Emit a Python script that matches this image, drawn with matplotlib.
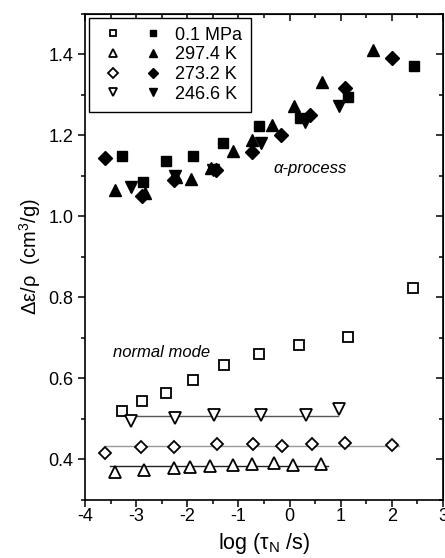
import numpy as np
import matplotlib.pyplot as plt
from matplotlib.legend_handler import HandlerTuple
from matplotlib.ticker import MultipleLocator

plt.rcParams['font.family'] = ['Liberation Sans', 'DejaVu Sans']
plt.rcParams['mathtext.fontset'] = 'custom'
plt.rcParams['mathtext.it'] = 'Liberation Sans:italic'
plt.rcParams['mathtext.rm'] = 'Liberation Sans'

labels = ["0.1 MPa", "297.4 K", "273.2 K", "246.6 K"]

# normal mode (open symbols)
x_nm_p = [-3.27, -2.88, -2.41, -1.89, -1.28, -0.60, 0.18, 1.15, 2.42]
y_nm_p = [0.519, 0.545, 0.565, 0.596, 0.633, 0.661, 0.683, 0.702, 0.824]
x_nm_297 = [-3.41, -2.84, -2.25, -1.95, -1.56, -1.11, -0.73, -0.31, 0.06, 0.61]
y_nm_297 = [0.370, 0.375, 0.378, 0.381, 0.385, 0.387, 0.390, 0.391, 0.387, 0.389]
x_nm_273 = [-3.60, -2.91, -2.26, -1.42, -0.71, -0.14, 0.43, 1.08, 2.01]
y_nm_273 = [0.415, 0.430, 0.430, 0.437, 0.437, 0.433, 0.438, 0.441, 0.436]
x_nm_246 = [-3.10, -2.24, -1.48, -0.55, 0.32, 0.97]
y_nm_246 = [0.494, 0.502, 0.509, 0.510, 0.509, 0.525]

# alpha process (filled symbols)
x_a_p = [-3.27, -2.87, -2.42, -1.89, -1.30, -0.59, 0.20, 1.15, 2.43]
y_a_p = [1.150, 1.086, 1.138, 1.150, 1.181, 1.223, 1.242, 1.296, 1.371]
x_a_297 = [-3.41, -2.83, -2.23, -1.93, -1.54, -1.10, -0.73, -0.35, 0.09, 0.63, 1.63]
y_a_297 = [1.066, 1.057, 1.097, 1.093, 1.119, 1.161, 1.188, 1.225, 1.272, 1.331, 1.410]
x_a_273 = [-3.61, -2.89, -2.26, -1.44, -0.73, -0.16, 0.40, 1.08, 2.01]
y_a_273 = [1.145, 1.051, 1.091, 1.115, 1.159, 1.202, 1.250, 1.317, 1.391]
x_a_246 = [-3.11, -2.24, -1.49, -0.55, 0.30, 0.97]
y_a_246 = [1.072, 1.100, 1.114, 1.182, 1.234, 1.272]

# constant fits to the normal-mode data at fixed T
fit_297_range = [-3.51, 0.76]
fit_273_range = [-3.60, 2.13]
fit_246_range = [-3.10, 0.95]

fig = plt.figure(figsize=(4.45, 5.58), dpi=100)
ax = fig.add_axes([0.191, 0.104, 0.8045, 0.871])

for rng, ys, c in [(fit_297_range, y_nm_297, '#222222'),
                   (fit_273_range, y_nm_273, '#999999'),
                   (fit_246_range, y_nm_246, '#555555')]:
    ax.plot(rng, [np.mean(ys)] * 2, color=c, lw=1.0, zorder=1)

open_kw = dict(ls='none', mfc='white', mec='black', mew=1.3, zorder=3)
fill_kw = dict(ls='none', color='black', zorder=3)

h1o, = ax.plot(x_nm_p, y_nm_p, marker='s', ms=6.5, **open_kw)
h2o, = ax.plot(x_nm_297, y_nm_297, marker='^', ms=8, **open_kw)
h3o, = ax.plot(x_nm_273, y_nm_273, marker='D', ms=6.5, **open_kw)
h4o, = ax.plot(x_nm_246, y_nm_246, marker='v', ms=8, **open_kw)

h1f, = ax.plot(x_a_p, y_a_p, marker='s', ms=6.5, **fill_kw)
h2f, = ax.plot(x_a_297, y_a_297, marker='^', ms=8.5, **fill_kw)
h3f, = ax.plot(x_a_273, y_a_273, marker='D', ms=7, **fill_kw)
h4f, = ax.plot(x_a_246, y_a_246, marker='v', ms=8.5, **fill_kw)

ax.set_xlim(-4, 3)
ax.set_ylim(0.3, 1.5)
ax.xaxis.set_minor_locator(MultipleLocator(0.5))
ax.yaxis.set_minor_locator(MultipleLocator(0.1))
ax.set_xticks(np.arange(-4, 4, 1))
ax.set_xticklabels([str(v) for v in range(-4, 4)])
ax.set_yticks(np.arange(0.4, 1.41, 0.2))
ax.set_yticklabels([f"{v:.1f}" for v in np.arange(0.4, 1.41, 0.2)])

ax.tick_params(which='both', direction='out', width=1.1, labelsize=13)
ax.tick_params(which='major', length=5)
ax.tick_params(which='minor', length=3)
ax.tick_params(axis='x', pad=1)
for sp in ax.spines.values():
    sp.set_linewidth(1.2)

# inward ticks on the top and right edges
sec_x = ax.secondary_xaxis('top')
sec_x.set_xticks(np.arange(-4, 4, 1))
sec_x.xaxis.set_minor_locator(MultipleLocator(0.5))
sec_x.tick_params(which='both', direction='in', labeltop=False, width=1.1)
sec_x.tick_params(which='major', length=5)
sec_x.tick_params(which='minor', length=3)
sec_y = ax.secondary_yaxis('right')
sec_y.set_yticks(np.arange(0.4, 1.41, 0.2))
sec_y.yaxis.set_minor_locator(MultipleLocator(0.1))
sec_y.tick_params(which='both', direction='in', labelright=False, width=1.1)
sec_y.tick_params(which='major', length=5)
sec_y.tick_params(which='minor', length=3)

ax.set_xlabel("log (τ$_\\mathregular{N}$ /s)", fontsize=15.5, labelpad=4)
ax.set_ylabel("Δε/ρ  (cm$^\\mathregular{3}$/g)", fontsize=14.5, labelpad=4)

ax.text(0.41, 1.118, "α-process", style='italic', fontsize=12,
        ha='center', va='center')
ax.text(-2.51, 0.664, "normal mode", style='italic', fontsize=12,
        ha='center', va='center')

leg = ax.legend([(h1o, h1f), (h2o, h2f), (h3o, h3f), (h4o, h4f)], labels,
                handler_map={tuple: HandlerTuple(ndivide=None, pad=0.55)},
                loc='upper left', fontsize=13,
                handlelength=3.9, handletextpad=0.4, labelspacing=0.15,
                borderpad=0.5, borderaxespad=0.2, fancybox=False,
                edgecolor='black', framealpha=1, markerscale=0.75)
leg.get_frame().set_linewidth(1.0)

fig.savefig("out.png", dpi=100)
